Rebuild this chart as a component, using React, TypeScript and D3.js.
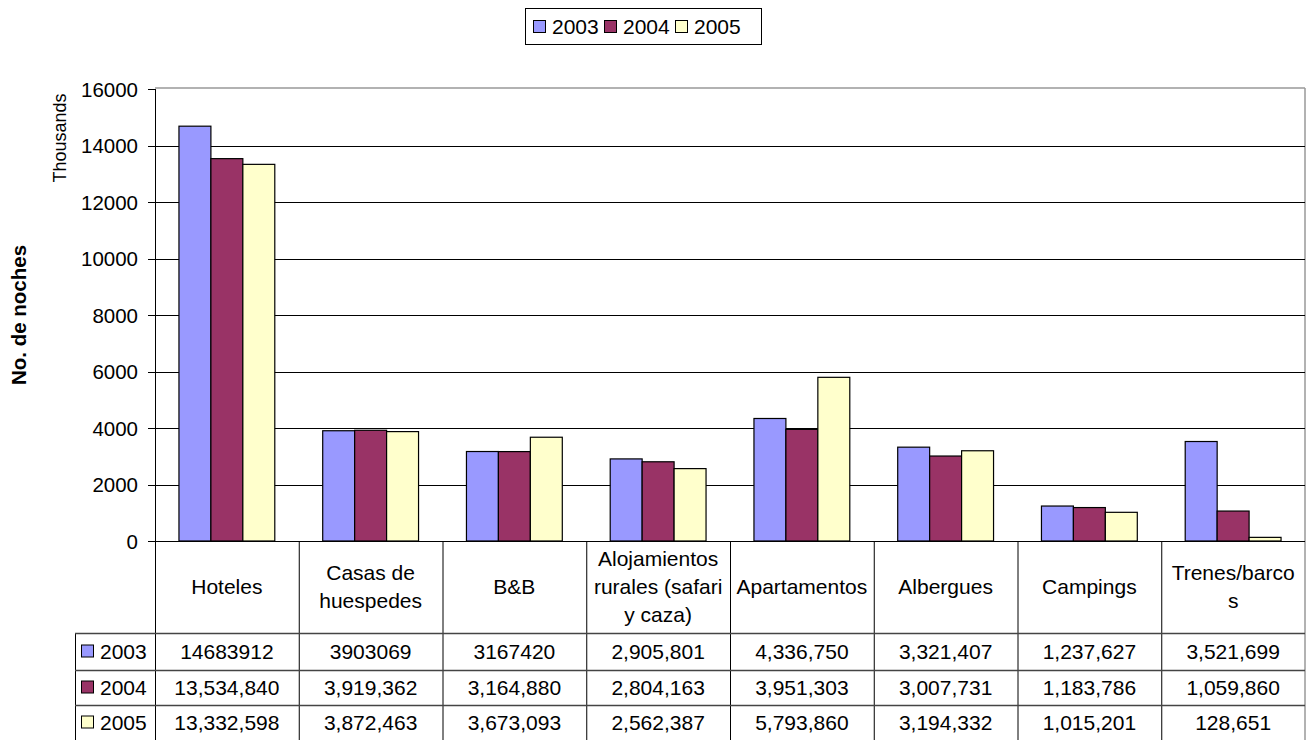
import React from "react";
import * as d3 from "d3";

const categories = [
  ["Hoteles"],
  ["Casas de", "huespedes"],
  ["B&B"],
  ["Alojamientos", "rurales (safari", "y caza)"],
  ["Apartamentos"],
  ["Albergues"],
  ["Campings"],
  ["Trenes/barco", "s"],
];
const series = ["2003", "2004", "2005"];
const colors = ["#9999FF", "#993366", "#FFFFCC"];
const values2003 = [14683912, 3903069, 3167420, 2905801, 4336750, 3321407, 1237627, 3521699];
const values2004 = [13534840, 3919362, 3164880, 2804163, 3951303, 3007731, 1183786, 1059860];
const values2005 = [13332598, 3872463, 3673093, 2562387, 5793860, 3194332, 1015201, 128651];
const tableText2003 = ["14683912", "3903069", "3167420", "2,905,801", "4,336,750", "3,321,407", "1,237,627", "3,521,699"];
const tableText2004 = ["13,534,840", "3,919,362", "3,164,880", "2,804,163", "3,951,303", "3,007,731", "1,183,786", "1,059,860"];
const tableText2005 = ["13,332,598", "3,872,463", "3,673,093", "2,562,387", "5,793,860", "3,194,332", "1,015,201", "128,651"];
const yTicks = [0, 2000, 4000, 6000, 8000, 10000, 12000, 14000, 16000];

const allValues = [values2003, values2004, values2005];
const allText = [tableText2003, tableText2004, tableText2005];

export default function App() {
  const W = 1310, H = 740;
  const left = 155, right = 1305, top = 89, bottom = 541;
  const font = "Arial, 'Liberation Sans', sans-serif";
  const x = d3.scaleBand<number>().domain(d3.range(categories.length)).range([left, right]).paddingInner(0).paddingOuter(0);
  const y = d3.scaleLinear().domain([0, 16000]).range([bottom, top]);
  const bw = x.bandwidth() / 4.5;
  const x1 = d3.scaleBand<number>().domain([0, 1, 2]).range([0, bw * 3]);
  const rowTops = [633, 670, 705, 740];
  const tableLeft = 75;
  const fs = 21;

  return (
    <svg width={W} height={H} style={{ position: "absolute", left: 0, top: 0, fontFamily: font }}>
      <rect x={0} y={0} width={W} height={H} fill="#fff" />
      {/* legend */}
      <rect x={525.5} y={8.5} width={236} height={36} fill="#fff" stroke="#000" strokeWidth={1} />
      {series.map((s, i) => {
        const lx = 533 + i * 71;
        return (
          <g key={s}>
            <rect x={lx + 0.5} y={20.5} width={12} height={12} fill={colors[i]} stroke="#000" strokeWidth={1} />
            <text x={lx + 19} y={34} fontSize={fs} fill="#000">{s}</text>
          </g>
        );
      })}
      {/* plot border */}
      <line x1={left} x2={right} y1={top - 1} y2={top - 1} stroke="#999" strokeWidth={1.5} />
      <line x1={right} x2={right} y1={top - 1} y2={740} stroke="#999" strokeWidth={1.5} />
      {/* gridlines */}
      {yTicks.map((t) => (
        <g key={t}>
          {t > 0 && t < 16000 && (
            <line x1={left} x2={right} y1={Math.round(y(t)) + 0.5} y2={Math.round(y(t)) + 0.5} stroke="#000" strokeWidth={1} />
          )}
          <line x1={148} x2={left} y1={Math.round(y(t)) + 0.5} y2={Math.round(y(t)) + 0.5} stroke="#000" strokeWidth={1} />
          <text x={138} y={y(t) + 7.5} fontSize={20.5} textAnchor="end" fill="#000">{t}</text>
        </g>
      ))}
      {/* bars */}
      {categories.map((c, ci) => {
        const gx = (x(ci) as number) + (x.bandwidth() - bw * 3) / 2;
        return (
          <g key={ci}>
            {allValues.map((vals, si) => {
              const v = vals[ci] / 1000;
              const bx = gx + (x1(si) as number);
              return (
                <rect
                  key={si}
                  x={bx}
                  y={y(v)}
                  width={bw}
                  height={bottom - y(v)}
                  fill={colors[si]}
                  stroke="#000"
                  strokeWidth={1.2}
                />
              );
            })}
          </g>
        );
      })}
      {/* axes */}
      <line x1={left + 0.5} x2={left + 0.5} y1={top} y2={740} stroke="#000" strokeWidth={1} />
      <line x1={left} x2={right} y1={bottom + 0.5} y2={bottom + 0.5} stroke="#000" strokeWidth={1} />
      {/* table vertical lines */}
      {categories.map((c, ci) =>
        ci > 0 ? (
          <line key={ci} x1={(x(ci) as number) + 0.5} x2={(x(ci) as number) + 0.5} y1={bottom} y2={740} stroke="#000" strokeWidth={1} />
        ) : null
      )}
      <line x1={tableLeft + 0.5} x2={tableLeft + 0.5} y1={rowTops[0]} y2={740} stroke="#000" strokeWidth={1} />
      {rowTops.slice(0, 3).map((ry) => (
        <line key={ry} x1={tableLeft} x2={right} y1={ry + 0.5} y2={ry + 0.5} stroke="#444" strokeWidth={1.5} />
      ))}
      {/* category labels */}
      {categories.map((lines, ci) => {
        const cx = (x(ci) as number) + x.bandwidth() / 2;
        const n = lines.length;
        return (
          <text key={ci} x={cx} fontSize={fs} textAnchor="middle" fill="#000">
            {lines.map((l, li) => (
              <tspan key={li} x={cx} y={594 + (li - (n - 1) / 2) * 28}>{l}</tspan>
            ))}
          </text>
        );
      })}
      {/* table rows */}
      {series.map((s, si) => {
        const ry = rowTops[si];
        const mid = (ry + rowTops[si + 1]) / 2;
        return (
          <g key={s}>
            <rect x={81.5} y={mid - 6.5} width={12} height={12} fill={colors[si]} stroke="#000" strokeWidth={1} />
            <text x={100} y={mid + 7.5} fontSize={fs} fill="#000">{s}</text>
            {allText[si].map((t, ci) => (
              <text key={ci} x={(x(ci) as number) + x.bandwidth() / 2} y={mid + 7.5} fontSize={fs} textAnchor="middle" fill="#000">{t}</text>
            ))}
          </g>
        );
      })}
      {/* axis titles */}
      <text transform="translate(26,315) rotate(-90)" fontSize={20.5} fontWeight="bold" textAnchor="middle" fill="#000">No. de noches</text>
      <text transform="translate(66,138) rotate(-90)" fontSize={18} textAnchor="middle" fill="#000">Thousands</text>
    </svg>
  );
}
